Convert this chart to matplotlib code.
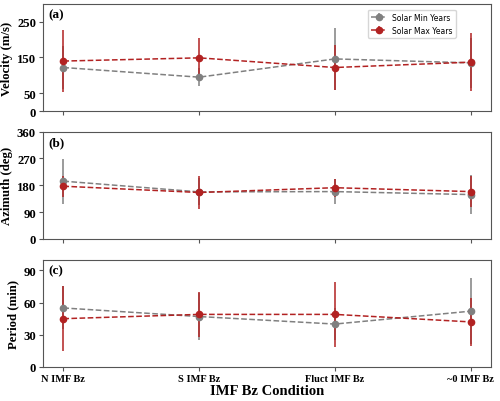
import matplotlib.pyplot as plt
import numpy as np

plt.rcParams['font.family'] = 'Liberation Serif'
plt.rcParams['font.size'] = 10

conditions = ['N IMF Bz', 'S IMF Bz', 'Fluct IMF Bz', '~0 IMF Bz']

# Velocity (m/s)
vel_min = [122, 95, 146, 135]
vel_min_err = [60, 26, 86, 70]
vel_max = [140, 149, 122, 137]
vel_max_err = [87, 56, 62, 82]

# Azimuth (deg)
az_min = [194, 158, 159, 149]
az_min_err = [75, 45, 41, 64]
az_max = [177, 156, 172, 159]
az_max_err = [35, 54, 30, 51]

# Period (min)
per_min = [55, 47, 40, 52]
per_min_err = [20, 22, 15, 31]
per_max = [45, 49, 49, 42]
per_max_err = [30, 21, 30, 22]

panels = [
    ('(a)', 'Velocity (m/s)', vel_min, vel_min_err, vel_max, vel_max_err, (0, 300), [0, 50, 150, 250]),
    ('(b)', 'Azimuth (deg)', az_min, az_min_err, az_max, az_max_err, (0, 360), [0, 90, 180, 270, 360]),
    ('(c)', 'Period (min)', per_min, per_min_err, per_max, per_max_err, (0, 100), [0, 30, 60, 90]),
]

fig = plt.figure(figsize=(5, 4.02), dpi=100)
bottoms = [0.721, 0.403, 0.0846]
height = 0.267
x = np.arange(len(conditions))

for i, (tag, ylabel, mn, mn_e, mx, mx_e, ylim, yticks) in enumerate(panels):
    ax = fig.add_axes([0.086, bottoms[i], 0.896, height])
    ax.errorbar(x, mn, yerr=mn_e, fmt='o--', color='gray', ms=4.5, lw=1.1,
                elinewidth=1.1, capsize=0, label='Solar Min Years')
    ax.errorbar(x, mx, yerr=mx_e, fmt='o--', color='firebrick', ms=4.5, lw=1.1,
                elinewidth=1.1, capsize=0, label='Solar Max Years')
    ax.set_ylim(*ylim)
    ax.set_yticks(yticks)
    ax.set_ylabel(ylabel, fontweight='bold', fontsize=9.2, labelpad=3)
    ax.text(0.012, 0.96, tag, transform=ax.transAxes, ha='left', va='top',
            fontweight='bold', fontsize=9.5)
    ax.set_xticks(x)
    for lbl in ax.get_yticklabels():
        lbl.set_fontweight('bold')
    for sp in ax.spines.values():
        sp.set_color('#555555')
    ax.tick_params(length=3, color='#555555', labelsize=9.2, pad=2)
    if i < 2:
        ax.set_xticklabels([])
    else:
        ax.set_xticklabels(conditions, fontweight='bold', fontsize=7.5)
        ax.set_xlabel('IMF Bz Condition', fontweight='bold', fontsize=10.5, labelpad=1)
    if i == 0:
        ax.legend(loc='upper right', bbox_to_anchor=(0.93, 0.98),
                  prop={'family': 'DejaVu Sans', 'size': 5.5}, framealpha=0.8)

plt.savefig('out.png', dpi=100)
